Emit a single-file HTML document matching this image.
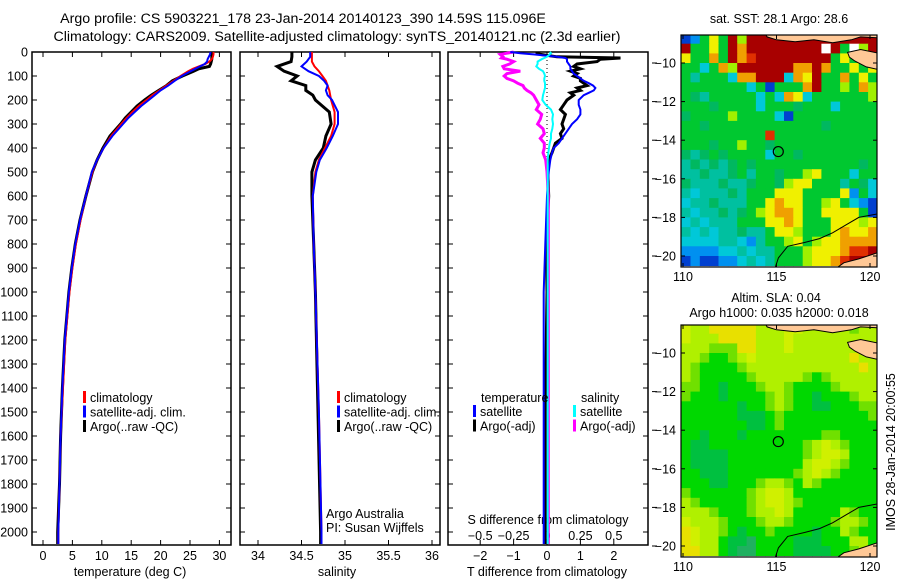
<!DOCTYPE html>
<html><head><meta charset="utf-8"><style>
html,body{margin:0;padding:0;background:#fff;}
svg{display:block;font-family:"Liberation Sans",sans-serif;}
text{font-size:12.5px;fill:#000;}
</style></head><body>
<svg id="chart" width="900" height="580" viewBox="0 0 900 580" xmlns="http://www.w3.org/2000/svg">
<text x="303" y="23" text-anchor="middle" style="font-size:14.2px">Argo profile: CS 5903221_178 23-Jan-2014 20140123_390 14.59S 115.096E</text>
<text x="337" y="41" text-anchor="middle" style="font-size:14.2px">Climatology: CARS2009. Satellite-adjusted climatology: synTS_20140121.nc (2.3d earlier)</text>
<text x="779" y="23" text-anchor="middle">sat. SST: 28.1 Argo: 28.6</text>
<text x="776" y="302" text-anchor="middle">Altim. SLA: 0.04</text>
<text x="779" y="317" text-anchor="middle">Argo h1000: 0.035 h2000: 0.018</text>
<text transform="translate(895,452) rotate(-90)" text-anchor="middle">IMOS 28-Jan-2014 20:00:55</text>
<g id="g"></g>
</svg>
<script>
// ---- profile data ----
const depths = [0,10,20,30,40,50,60,70,80,100,120,140,160,180,200,225,250,275,300,350,400,450,500,600,700,800,900,1000,1200,1400,1600,1800,2000,2050];
const tempClim = [29.0,29.0,28.9,28.7,28.3,27.6,26.5,25.5,24.7,23.4,22.2,21.0,19.8,18.6,17.6,16.3,15.2,14.2,13.3,11.6,10.3,9.2,8.4,7.3,6.4,5.6,5.0,4.5,3.8,3.4,3.0,2.8,2.6,2.6];
const tempSat = [28.5,28.4,28.2,28.0,27.9,27.5,26.7,25.9,25.1,23.6,22.4,21.3,20.0,19.0,18.0,16.7,15.6,14.5,13.6,11.8,10.3,9.2,8.3,7.3,6.3,5.5,4.9,4.4,3.7,3.3,3.0,2.8,2.6,2.6];
const tempArgo = [28.7,28.7,28.7,28.7,28.6,28.5,28.3,26.5,25.6,23.7,22.0,21.0,19.7,18.4,17.3,16.0,15.0,14.0,13.2,11.4,10.2,9.2,8.4,7.3,6.3,5.5,4.9,4.4,3.7,3.3,3.0,2.8,2.5,2.5];
const salDepths = [0,20,40,60,80,100,120,140,160,180,200,250,300,350,400,450,500,600,800,1000,1500,2000,2050];
const salArgo = [34.39,34.39,34.38,34.22,34.3,34.45,34.38,34.55,34.55,34.63,34.66,34.82,34.84,34.78,34.75,34.66,34.62,34.62,34.64,34.66,34.69,34.72,34.72];
const salClim = [34.62,34.62,34.62,34.65,34.7,34.74,34.78,34.8,34.82,34.83,34.84,34.88,34.88,34.84,34.77,34.7,34.66,34.63,34.64,34.66,34.7,34.73,34.73];
const salSat = [34.6,34.6,34.56,34.5,34.58,34.7,34.76,34.8,34.78,34.8,34.85,34.92,34.92,34.86,34.79,34.71,34.67,34.63,34.64,34.66,34.7,34.73,34.73];
const diffDepths = [0,5,10,20,25,30,40,50,60,70,80,90,100,110,120,130,140,150,160,170,180,200,220,240,260,280,300,320,340,360,380,400,420,450,500,600,800,1000,1500,2000,2050];
const tDiffSat = [-1.1,-0.8,-0.4,0.3,0.55,0.6,0.6,0.65,0.7,0.7,0.75,0.8,0.9,1.0,1.1,1.25,1.38,1.45,1.4,1.25,1.1,0.95,0.95,1.0,1.0,0.9,0.75,0.65,0.55,0.45,0.35,0.2,0.15,0.1,0.05,0,-0.05,-0.1,-0.1,-0.1,-0.1];
const tDiffArgo = [-0.3,-0.3,-0.2,0.3,2.2,1.6,1.5,0.9,0.8,1.0,0.7,0.9,0.8,1.0,1.0,1.1,1.2,0.9,1.0,0.7,0.8,0.6,0.5,0.4,0.55,0.5,0.45,0.5,0.4,0.45,0.25,0.2,0.15,0.05,0.02,0.05,-0.02,0.0,-0.05,-0.05,-0.05];
const sDiffArgo = [-0.25,-0.3,-0.35,-0.33,-0.34,-0.3,-0.25,-0.28,-0.33,-0.32,-0.2,-0.3,-0.32,-0.3,-0.25,-0.22,-0.18,-0.17,-0.15,-0.12,-0.1,-0.08,-0.06,-0.08,-0.04,-0.05,-0.07,-0.03,-0.02,-0.05,-0.02,-0.02,-0.03,-0.01,0,0.01,0.01,0.01,0.01,0.01,0.01];
const sDiffSat = [0.02,0.03,0.02,0.0,-0.02,-0.04,-0.07,-0.07,-0.08,-0.06,-0.03,-0.02,-0.015,-0.02,-0.02,-0.015,-0.015,-0.015,-0.02,-0.025,-0.03,-0.035,-0.01,0.03,0.045,0.04,0.045,0.04,0.03,0.03,0.02,0.015,0.01,0.005,0.005,0.005,0.005,0.005,0.005,0.005,0.005];
const depthTicks = [0,100,200,300,400,500,600,700,800,900,1000,1100,1200,1300,1400,1500,1600,1700,1800,1900,2000];
const tempTicks = [0,5,10,15,20,25,30];
const salTicks = ["34","34.5","35","35.5","36"];
const tdTicks = [-2,-1,0,1,2];
const sdTicks = ["-0.5","-0.25","0","0.25","0.5"];
const latTicks = [-10,-12,-14,-16,-18,-20];
const lonTicks = [110,115,120];
// ---- map grids (rows north->south, 0.5 deg, lon 110..120) ----
const sstGrid = [
"DBGYGRLRRRRRRRRRRRRRR","RGGYGRORRRRRRRRWRGWLR","YGGOGROrRRRRRRRRGYGYG","GGCGOLRRRRRROOROGGYGY",
"GTGGGCOORRRCOYRGGOGYG","GGGGGGGCGDGGGORGGLGOL","GgTGGGGGCGCOYCGGGGGGL","GGGgGGGGCGGGgGGGCGGGG",
"gGGGGLGGGGCDGGGGGGGGG","GGgGGGGGGGGGGGGgGGGGG","GGGGGGGGGrGGGGGGGGGGG","GGGgGGLGGgGGGGGGGGGGG",
"gTgGgGGGGCGGgGGGGGGGG","TgTgTgGgGGGGGGGGGGGgG","TTgTTgGTGGgGGLYGGGCGG","gTTTgTTgGGgLYYGGGTGgC",
"TCTTTgTGGGYYYGGGGYBGC","CTTgTTTGGYOYYGGLYGCBD","TCTTgTgGLYOOYGGYYYYGD","CTCTTTGGGYYOYGGGYYYLY",
"TCTCTTgTTGYYLGGGYOYYO","CCCCTTCBTGGLYGLYYOOOO","BBBBCCTCTTGGGLYYYOrrR","DBDDBBCTCTGGGLYYOrRRR"];
const slaGrid = [
"yLLYYYYYLLLyyLLLLLlLL","yLLLYYYYLLLyLLLLLLLLL","LLLlllYYLLLyLLLLLLLYL","LLlGGlLyLLLLLLLLLLYLL",
"LlGGGGlLLLLLLLLLLLLYL","LlGGGGGlLLLLLlGlLLLLL","llGGgGGGlLLlGGGGlLLLL","lGGGgGGGGlLlGGgGGGlLL",
"GGGGGGgGGlLlGGggGGGll","GGGGGGgggGlGGGGGGGGGl","GGGGGGGggGlGGGGGGGGGG","GGgGGGgGGGGGGGGllGGGG",
"GggGGGGGGGGGGlLyLlGGG","GggggGGGGGGGGlLyyLGGG","GggggGGGGGGGGLyyLlGGG","GGgggGGGGGGGlLyLlGGGG",
"GGGggGGGlLLlGLlGGGGGG","lGGGGGGlLyyLGGGGGGGGG","LlGGGGGlLyyLlGGGGGGGG","LLLlGGGlLLyLGGGGGLlGG",
"yLLLlGGGlLLlGGGGlLLlG","YyLLlGgGGlGGGGgGGLlGG","YyLLGgghGGGGgggGGGLLG","YYLLGghhGGGGggggGGlLL"];
const argoLon = 115.096, argoLat = -14.59;

const NS="http://www.w3.org/2000/svg";
const G=document.getElementById('g');
function mk(tag,attrs,parent){const e=document.createElementNS(NS,tag);for(const k in attrs)e.setAttribute(k,attrs[k]);(parent||G).appendChild(e);return e;}
function txt(s,x,y,anchor,parent){const e=mk('text',{x:x,y:y,'text-anchor':anchor||'start'},parent);e.textContent=s;return e;}

const yD=d=>52+d*0.24;
const xT=t=>43+t*5.88;
const xS=s=>258+(s-34)*87;
const xTD=d=>547+d*33.4;
const xSD=s=>547+s*4*33.4;
const PB=545;

function frame(x0,x1,name){const r=mk('rect',{x:x0,y:52,width:x1-x0,height:PB-52,fill:'none',stroke:'#000','stroke-width':1.5});}
function line(xs,ds,xf,color,w,name){
  let p='';for(let i=0;i<xs.length;i++){p+=(i?'L':'M')+xf(xs[i]).toFixed(1)+','+yD(ds[i]).toFixed(1);}
  const e=mk('path',{d:p,fill:'none',stroke:color,'stroke-width':w,'stroke-linejoin':'miter'});
  
  
}
// depth axis
depthTicks.forEach(d=>{const t=txt(String(d),28,yD(d)+4.5,'end');
  [[32,37],[231,226],[240,245],[440,435],[448,453],[648,643]].forEach(a=>mk('line',{x1:a[0],x2:a[1],y1:yD(d),y2:yD(d),stroke:'#000'}));
});
// panel 1
frame(32,231,'temperature-panel');
tempTicks.forEach(t=>{const e=txt(String(t),xT(t),560,'middle');
  mk('line',{x1:xT(t),x2:xT(t),y1:PB,y2:PB-5,stroke:'#000'});mk('line',{x1:xT(t),x2:xT(t),y1:52,y2:57,stroke:'#000'});});
let e=txt('temperature (deg C)',130,576,'middle');
line(tempArgo,depths,xT,'#000',3,'temperature-argo-line');
line(tempClim,depths,xT,'#f00',2,'temperature-climatology-line');
line(tempSat,depths,xT,'#00f',2,'temperature-satellite-line');
function legend(x,y,items,prefix){items.forEach((it,i)=>{const r=mk('rect',{x:x,y:y+i*14.5-11,width:3,height:12,fill:it[0]});
  const t=txt(it[1],x+7,y+i*14.5,'start');});}
legend(83,402,[['#f00','climatology'],['#00f','satellite-adj. clim.'],['#000','Argo(..raw -QC)']],'temperature-legend');
// panel 2
frame(240,440,'salinity-panel');
salTicks.forEach(s=>{const x=xS(+s);const t=txt(s,x,560,'middle');
  mk('line',{x1:x,x2:x,y1:PB,y2:PB-5,stroke:'#000'});mk('line',{x1:x,x2:x,y1:52,y2:57,stroke:'#000'});});
e=txt('salinity',337,576,'middle');
line(salArgo,salDepths,xS,'#000',3,'salinity-argo-line');
line(salClim,salDepths,xS,'#f00',2,'salinity-climatology-line');
line(salSat,salDepths,xS,'#00f',2,'salinity-satellite-line');
legend(337,402,[['#f00','climatology'],['#00f','satellite-adj. clim.'],['#000','Argo(..raw -QC)']],'salinity-legend');
e=txt('Argo Australia',326,518);
e=txt('PI: Susan Wijffels',326,532);
// panel 3
frame(448,648,'difference-panel');
mk('line',{x1:547,x2:547,y1:52,y2:yD(450),stroke:'#000','stroke-dasharray':'1,3'});
tdTicks.forEach(t=>{const x=xTD(t);const l=txt(t<0?'\u2212'+(-t):String(t),x,560,'middle');
  mk('line',{x1:x,x2:x,y1:PB,y2:PB-5,stroke:'#000'});mk('line',{x1:x,x2:x,y1:52,y2:57,stroke:'#000'});});
sdTicks.forEach(s=>{const x=xSD(+s);const l=txt(s.replace('-','\u2212'),x,540,'middle');});
e=txt('S difference from climatology',548,524,'middle');
e=txt('T difference from climatology',547,576,'middle');
line(tDiffArgo,diffDepths,xTD,'#000',3,'t-diff-argo-line');
line(sDiffArgo,diffDepths,xSD,'#f0f',3,'s-diff-argo-line');
line(tDiffSat,diffDepths,xTD,'#00f',2,'t-diff-satellite-line');
line(sDiffSat,diffDepths,xSD,'#0ff',2,'s-diff-satellite-line');
e=txt('temperature',481,402);
e=txt('salinity',581,402);
legend(473,416,[['#00f','satellite'],['#000','Argo(-adj)']],'t-diff-legend');
legend(573,416,[['#0ff','satellite'],['#f0f','Argo(-adj)']],'s-diff-legend');
// ---- maps ----
const sstColors={R:'#a80000',r:'#e03000',O:'#f0a000',Y:'#f0f000',L:'#a0f000',G:'#00c830',g:'#00b860',T:'#00c0a0',C:'#00c8d8',B:'#0090f0',D:'#0040d0',W:'#ffffff'};
const slaColors={Y:'#e8e000',y:'#d0f000',L:'#b0f000',l:'#70e000',G:'#00d800',g:'#00c040',h:'#20b060'};
function drawMap(top,bottom,grid,colors,name){
  const X0=681,X1=877;
  const xL=l=>683+(l-110)*18.7;
  const yL=la=>top+28+(-10-la)*((bottom-top-28-11)/10);
  const mg=mk('g',{});
  const cp=mk('clipPath',{id:name+'-clip'},mg);mk('rect',{x:X0,y:top,width:X1-X0,height:bottom-top},cp);
  const inner=mk('g',{'clip-path':'url(#'+name+'-clip)'},mg);
  grid.forEach((row,j)=>{const la0=-8.5-j*0.5;
    for(let i=0;i<row.length;i++){const lo=110+i*0.5;
      const x=xL(lo-0.1),y=yL(la0+ (j==0?0.5:0));
      const c=mk('rect',{x:x.toFixed(1),y:y.toFixed(1),width:(xL(lo+0.4)-x+0.5).toFixed(1),height:(yL(la0-0.5)-y+0.5).toFixed(1),fill:colors[row[i]]},inner);
      
      
    }});
  const poly=(pts,fill)=>mk('path',{d:'M'+pts.map(p=>xL(p[0]).toFixed(1)+','+yL(p[1]).toFixed(1)).join('L')+'Z',fill:fill,stroke:'#000','stroke-width':1},inner);
  poly([[114.3,-8.3],[114.5,-8.65],[115,-8.8],[116,-8.9],[117,-8.8],[118,-8.95],[119,-8.8],[119.5,-8.65],[120.5,-8.7],[120.5,-8.3]],'#ffc896');
  poly([[118.8,-9.45],[119.5,-9.3],[120.5,-9.5],[120.5,-10.35],[119.8,-10.2],[119.2,-9.9],[118.9,-9.7]],'#ffc896');
  poly([[118.1,-20.7],[118.6,-20.35],[119.4,-20.15],[120.5,-19.8],[120.5,-20.7]],'#ffc896');
  mk('path',{d:'M'+[[114.9,-20.7],[115.1,-20.1],[115.6,-19.5],[116.5,-19.3],[117.3,-19.1],[118,-18.8],[118.7,-18.4],[119.4,-18],[120.5,-17.8]].map(p=>xL(p[0]).toFixed(1)+','+yL(p[1]).toFixed(1)).join('L'),fill:'none',stroke:'#000','stroke-width':1},inner);
  const c=mk('circle',{cx:xL(argoLon),cy:yL(argoLat),r:5,fill:'none',stroke:'#000','stroke-width':1.2},mg);
  
  
  mk('rect',{x:X0,y:top,width:X1-X0,height:bottom-top,fill:'none',stroke:'#000','stroke-width':1.2},mg);
  latTicks.forEach(la=>{const y=yL(la);const t=txt(String(la).replace('-','\u2212'),676,y+4.5,'end',mg);
    mk('line',{x1:652,x2:657,y1:y,y2:y,stroke:'#000'},mg);
    mk('line',{x1:X0,x2:X0+4,y1:y,y2:y,stroke:'#000'},mg);mk('line',{x1:X1,x2:X1-4,y1:y,y2:y,stroke:'#000'},mg);});
  lonTicks.forEach(lo=>{const x=xL(lo);const t=txt(String(lo),x,bottom+14,'middle',mg);
    mk('line',{x1:x,x2:x,y1:bottom,y2:bottom-4,stroke:'#000'},mg);mk('line',{x1:x,x2:x,y1:top,y2:top+4,stroke:'#000'},mg);});
}
drawMap(35,267,sstGrid,sstColors,'sst-map');
drawMap(325,557,slaGrid,slaColors,'sla-map');
</script>
</body></html>
